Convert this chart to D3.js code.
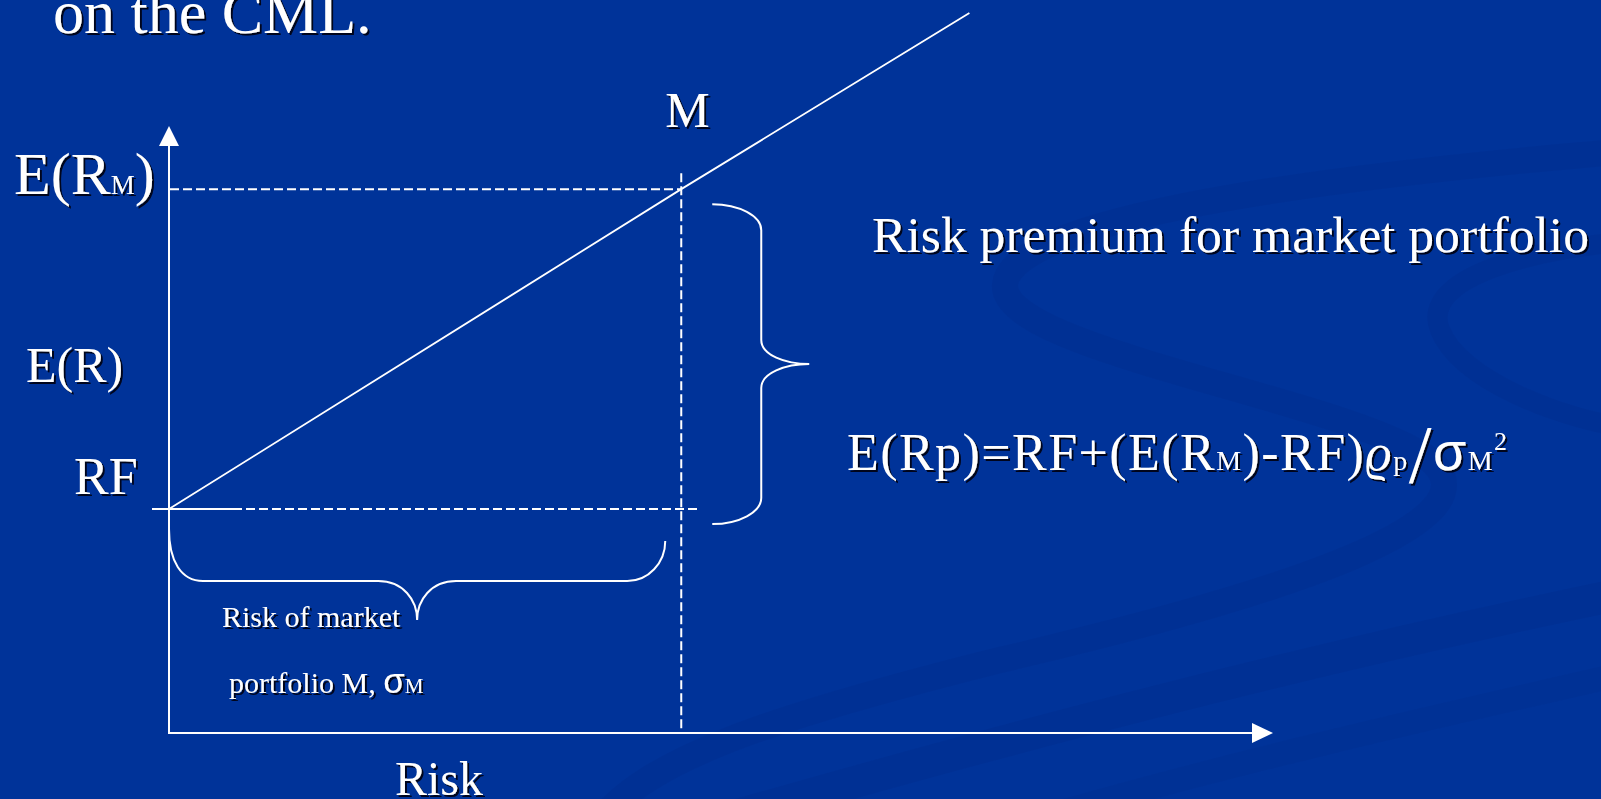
<!DOCTYPE html>
<html>
<head>
<meta charset="utf-8">
<script src="https://cdn.jsdelivr.net/npm/d3@7"></script>
<style>
  html, body { margin: 0; padding: 0; background: #003399; overflow: hidden; }
  svg { display: block; }
</style>
</head>
<body>
<svg id="chart" width="1601" height="799"></svg>
<script>
// Capital market line, in plot units (risk σ on x, expected return on y)
const cmlRisk   = [0, 46.4, 72.5];
const cmlReturn = [36.9, 89.6, 118.6];
const rfReturn = 36.9;        // risk-free rate RF
const marketReturn = 89.6;    // E(R_M)
const marketRisk = 46.4;      // σ_M
const axisMax = [100, 100];   // extent of the risk and return axes

const SERIF = "'Liberation Serif', 'Times New Roman', Times, serif";
const SANS = "'Liberation Sans', Arial, sans-serif";

const svg = d3.select("#chart");
const W = 1601, H = 799;

const x = d3.scaleLinear().domain([0, axisMax[0]]).range([169, 1273]);
const y = d3.scaleLinear().domain([0, axisMax[1]]).range([733, 126]);

// drop shadow used by every text label
const defs = svg.append("defs");
defs.append("filter").attr("id", "shadow")
  .attr("x", "-5%").attr("y", "-20%").attr("width", "115%").attr("height", "150%")
  .append("feDropShadow")
  .attr("dx", 2).attr("dy", 2).attr("stdDeviation", 0.6)
  .attr("flood-color", "#000010").attr("flood-opacity", 0.9);

// slide background with faint darker swooshes
svg.append("rect").attr("width", W).attr("height", H).attr("fill", "#003399");
const swoosh = svg.append("g").attr("fill", "none").attr("stroke", "#002a82").attr("stroke-linecap", "round");
swoosh.append("path")
  .attr("d", "M1640,150 C1400,170 1010,210 1005,285 C1000,350 1350,400 1430,460 C1500,520 1300,590 1000,660 C760,720 650,760 600,820")
  .attr("stroke-width", 26).attr("opacity", 0.22);
swoosh.append("path")
  .attr("d", "M1640,240 C1520,250 1420,280 1440,330 C1460,380 1560,420 1640,430")
  .attr("stroke-width", 20).attr("opacity", 0.2);
swoosh.append("path")
  .attr("d", "M720,820 C1000,740 1300,660 1640,590")
  .attr("stroke-width", 32).attr("opacity", 0.2);
swoosh.append("path")
  .attr("d", "M1000,830 C1200,770 1420,720 1640,670")
  .attr("stroke-width", 24).attr("opacity", 0.16);

const ink = "#ffffff";
const dash = "9,4";

// reference lines at RF, E(R_M) and σ_M
svg.append("line")
  .attr("x1", x(0) - 17).attr("x2", x(0) + 64)
  .attr("y1", y(rfReturn)).attr("y2", y(rfReturn))
  .attr("stroke", ink).attr("stroke-width", 2);
svg.append("line")
  .attr("x1", x(0) + 64).attr("x2", x(marketRisk) + 17)
  .attr("y1", y(rfReturn)).attr("y2", y(rfReturn))
  .attr("stroke", ink).attr("stroke-width", 2).attr("stroke-dasharray", dash);
svg.append("line")
  .attr("x1", x(0) + 1).attr("x2", x(marketRisk))
  .attr("y1", y(marketReturn)).attr("y2", y(marketReturn))
  .attr("stroke", ink).attr("stroke-width", 2).attr("stroke-dasharray", dash);
svg.append("line")
  .attr("x1", x(marketRisk)).attr("x2", x(marketRisk))
  .attr("y1", y(marketReturn) - 16).attr("y2", y(0))
  .attr("stroke", ink).attr("stroke-width", 2).attr("stroke-dasharray", dash);

// axes with arrow heads
svg.append("line")
  .attr("x1", x(0)).attr("x2", x(0)).attr("y1", y(0) + 1).attr("y2", y(axisMax[1]) + 18)
  .attr("stroke", ink).attr("stroke-width", 2);
svg.append("line")
  .attr("x1", x(0) - 1).attr("x2", x(axisMax[0]) - 18).attr("y1", y(0)).attr("y2", y(0))
  .attr("stroke", ink).attr("stroke-width", 2);
svg.append("path")
  .attr("d", `M${x(0)},${y(axisMax[1])} L${x(0) + 10},${y(axisMax[1]) + 20} L${x(0) - 10},${y(axisMax[1]) + 20} Z`)
  .attr("fill", ink);
svg.append("path")
  .attr("d", `M${x(axisMax[0])},${y(0)} L${x(axisMax[0]) - 21},${y(0) - 10} L${x(axisMax[0]) - 21},${y(0) + 10} Z`)
  .attr("fill", ink);

// the capital market line
const cml = d3.line().x(d => x(d[0])).y(d => y(d[1]));
svg.append("path")
  .datum(d3.zip(cmlRisk, cmlReturn))
  .attr("d", cml)
  .attr("fill", "none").attr("stroke", ink).attr("stroke-width", 1.8);

// brace spanning the market risk premium (RF .. E(R_M))
{
  const xa = x(marketRisk) + 31, xb = xa + 49, xt = xa + 97;
  const top = y(marketReturn) + 15, bot = y(rfReturn) + 15, mid = (top + bot) / 2;
  svg.append("path")
    .attr("d", `M${xa},${top} C${xa + 27},${top} ${xb},${top + 12} ${xb},${top + 26}
                L${xb},${mid - 24} C${xb},${mid - 9} ${xb + 24},${mid} ${xt},${mid}
                C${xb + 24},${mid} ${xb},${mid + 9} ${xb},${mid + 24}
                L${xb},${bot - 26} C${xb},${bot - 12} ${xa + 27},${bot} ${xa},${bot}`)
    .attr("fill", "none").attr("stroke", ink).attr("stroke-width", 2);
}

// brace spanning σ_M along the risk axis
{
  const xl = x(0), xr = x(marketRisk) - 16, xm = (xl + xr) / 2;
  const yl = y(rfReturn) + 20, yr = y(rfReturn) + 32, yh = y(rfReturn) + 72, tip = yh + 39;
  svg.append("path")
    .attr("d", `M${xl},${yl} C${xl},${yl + 32} ${xl + 12},${yh} ${xl + 34},${yh}
                L${xm - 39},${yh} C${xm - 14},${yh} ${xm},${yh + 19} ${xm},${tip}
                C${xm},${yh + 19} ${xm + 14},${yh} ${xm + 39},${yh}
                L${xr - 38},${yh} C${xr - 17},${yh} ${xr},${yh - 18} ${xr},${yr}`)
    .attr("fill", "none").attr("stroke", ink).attr("stroke-width", 2);
}

// text labels
const txt = svg.append("g").attr("fill", ink).attr("filter", "url(#shadow)");

function label(px, py, parts, family) {
  const t = txt.append("text").attr("x", px).attr("y", py).attr("font-family", family || SERIF);
  parts.forEach(p => {
    const s = t.append("tspan").text(p.t).attr("font-size", p.size);
    if (p.family) s.attr("font-family", p.family);
    if (p.italic) s.attr("font-style", "italic");
    if (p.dy) s.attr("dy", p.dy);
  });
  return t;
}

label(53, 33, [{ t: "on the CML.", size: 62 }]);
label(14, y(marketReturn) + 5, [{ t: "E(R", size: 60 }, { t: "M", size: 27 }, { t: ")", size: 60 }]);
label(26, 382, [{ t: "E(R)", size: 50 }]);
label(74, y(rfReturn) - 15, [{ t: "RF", size: 52 }]);
label(x(marketRisk) - 16, y(marketReturn) - 62, [{ t: "M", size: 50 }]);
label(395, 795, [{ t: "Risk", size: 48 }]);
label(222, 627, [{ t: "Risk of market", size: 30 }]);
label(229, 693, [{ t: "portfolio M, ", size: 30 }, { t: "σ", size: 35, family: SANS }, { t: "M", size: 21 }]);
label(872, 252, [{ t: "Risk premium for market portfolio", size: 50 }])
  .attr("textLength", 717).attr("lengthAdjust", "spacingAndGlyphs");

// E(Rp) = RF + (E(R_M) - RF) ρ_p / σ_M²
label(847, 470, [
  { t: "E(Rp)=RF+(E(R", size: 52 },
  { t: "M", size: 28 },
  { t: ")-RF)", size: 52 },
  { t: "ϱ", size: 52, italic: true },
  { t: "p", size: 28 },
  { t: "/", size: 82, dy: 12 },
  { t: "σ", size: 54, family: SANS, dy: -12 },
  { t: "M", size: 28 },
  { t: "2", size: 26, dy: -20 }
]).attr("textLength", 660).attr("lengthAdjust", "spacing");
</script>
</body>
</html>
